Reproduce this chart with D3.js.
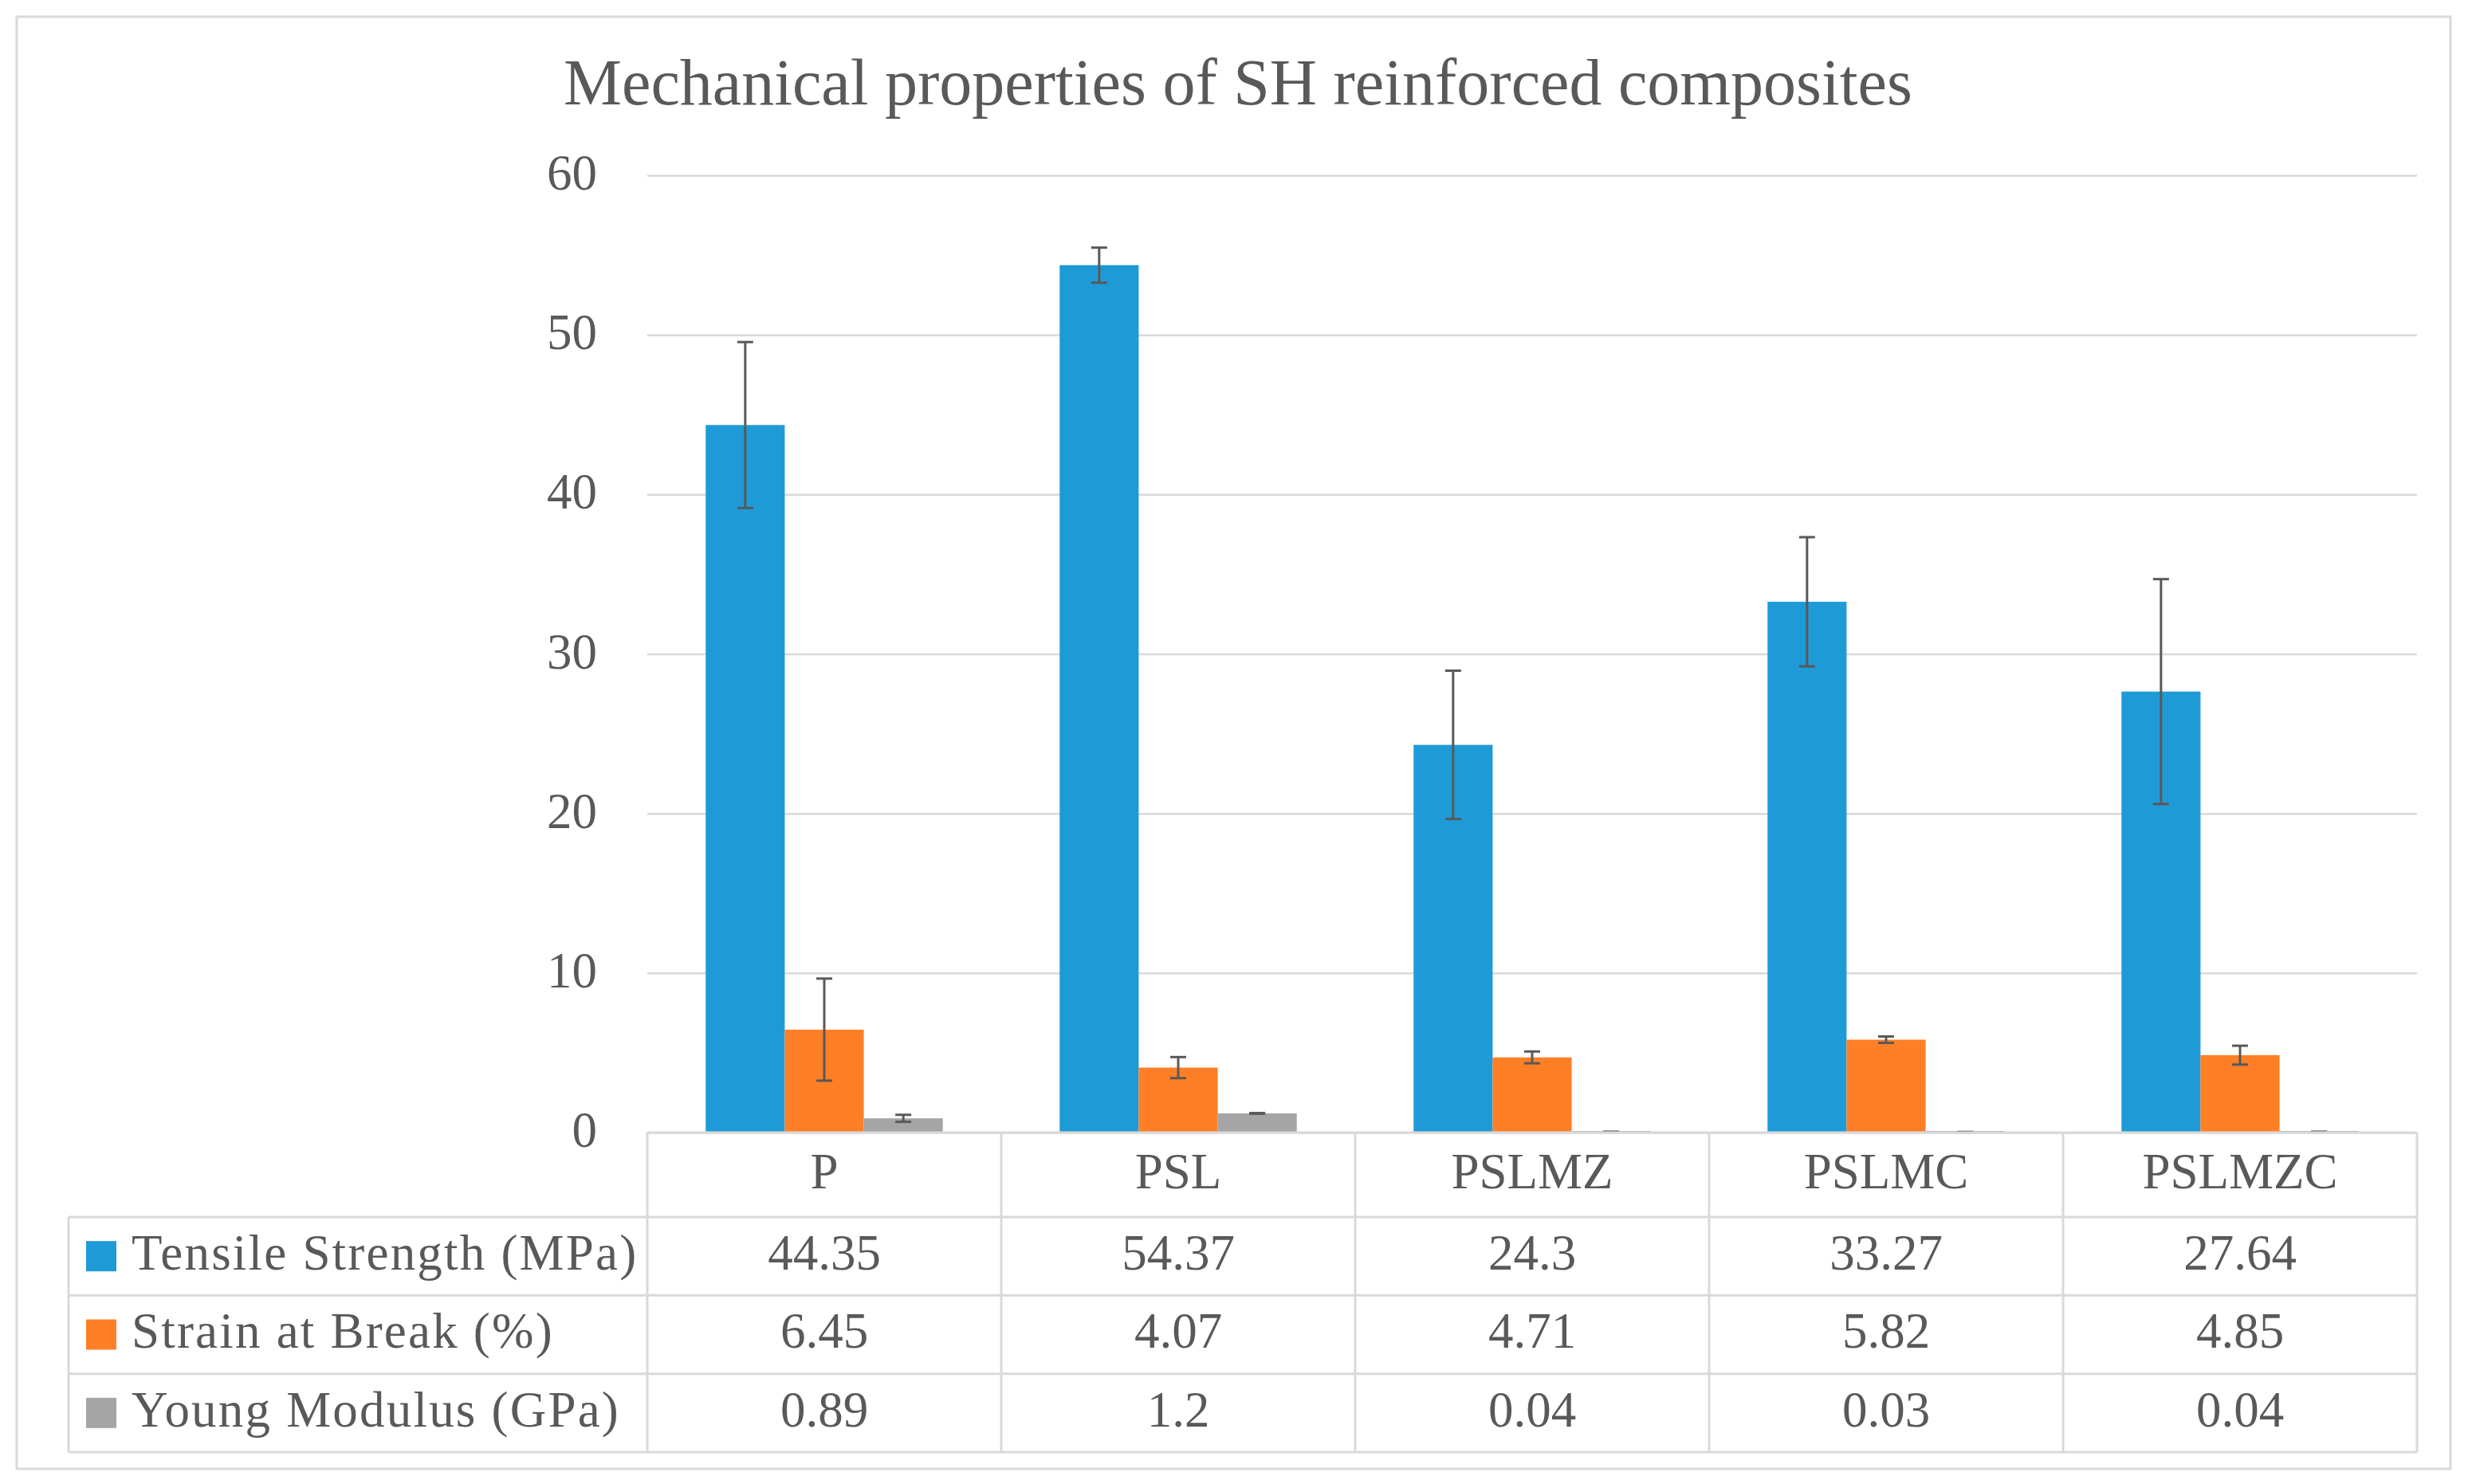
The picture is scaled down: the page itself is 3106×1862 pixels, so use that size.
<!DOCTYPE html>
<html>
<head>
<meta charset="utf-8">
<script src="https://cdn.jsdelivr.net/npm/d3@7"></script>
<style>
  html, body { margin: 0; padding: 0; background: #ffffff; }
  svg { display: block; }
  text { font-family: "Liberation Serif", "DejaVu Serif", serif; fill: #595959; }
</style>
</head>
<body>
<svg id="chart" width="3106" height="1862"></svg>
<script>
const chartTitle = "Mechanical properties of SH reinforced composites";
const categories = ["P", "PSL", "PSLMZ", "PSLMC", "PSLMZC"];
const seriesNames = ["Tensile Strength (MPa)", "Strain at Break (%)", "Young Modulus (GPa)"];
const seriesColors = ["#1E9BD7", "#FF7F27", "#A5A5A5"];
const tensileStrength = [44.35, 54.37, 24.3, 33.27, 27.64];
const strainAtBreak = [6.45, 4.07, 4.71, 5.82, 4.85];
const youngModulus = [0.89, 1.2, 0.04, 0.03, 0.04];
const tensileErr = [5.2, 1.1, 4.65, 4.05, 7.05];
const strainErr = [3.2, 0.66, 0.37, 0.2, 0.59];
const youngErr = [0.22, 0.02, 0.01, 0.01, 0.01];
const yTicks = [0, 10, 20, 30, 40, 50, 60];

const seriesValues = [tensileStrength, strainAtBreak, youngModulus];
const seriesErrors = [tensileErr, strainErr, youngErr];

const W = 3106, H = 1862;
const plotLeft = 812, plotRight = 3032, plotTop = 220, plotBottom = 1421;
const tableLeft = 86, tableBottom = 1822, rowTop = 1527;
const gridColor = "#d9d9d9";
const textColor = "#595959";

const svg = d3.select("#chart");

// outer border
svg.append("rect")
  .attr("x", 21).attr("y", 21)
  .attr("width", 3074 - 21).attr("height", 1843 - 21)
  .attr("fill", "#ffffff")
  .attr("stroke", gridColor).attr("stroke-width", 3);

// title
svg.append("text")
  .attr("x", W / 2).attr("y", 131)
  .attr("text-anchor", "middle")
  .style("font-size", "82px")
  .text(chartTitle);

const y = d3.scaleLinear().domain([0, 60]).range([plotBottom, plotTop]);
const x0 = d3.scaleBand().domain(categories).range([plotLeft, plotRight]).padding(0);
const step = x0.bandwidth();
const x1 = d3.scaleBand().domain(seriesNames).range([step * 0.165, step * 0.835]).padding(0);

// y axis with gridlines
const yAxis = d3.axisLeft(y)
  .tickValues(yTicks)
  .tickSize(-(plotRight - plotLeft))
  .tickPadding(63)
  .tickFormat(d3.format("d"));

const gAxis = svg.append("g")
  .attr("transform", `translate(${plotLeft},0)`)
  .call(yAxis);
gAxis.select(".domain").remove();
gAxis.selectAll(".tick line")
  .attr("stroke", gridColor).attr("stroke-width", 2.5);
gAxis.selectAll(".tick text")
  .attr("fill", textColor)
  .attr("dy", "0.28em")
  .style("font-size", "63px")
  .style("font-family", "'Liberation Serif', serif");

// bars
const barData = [];
categories.forEach((c, i) => {
  seriesNames.forEach((s, j) => {
    barData.push({ cat: c, series: s, idx: j, value: seriesValues[j][i], err: seriesErrors[j][i] });
  });
});

svg.append("g").selectAll("rect")
  .data(barData)
  .join("rect")
  .attr("x", d => x0(d.cat) + x1(d.series))
  .attr("y", d => Math.min(y(d.value), y(0) - 2))
  .attr("width", x1.bandwidth())
  .attr("height", d => Math.max(y(0) - y(d.value), 2))
  .attr("fill", d => seriesColors[d.idx]);

// error bars
const eb = svg.append("g").attr("stroke", textColor).attr("stroke-width", 3);
barData.forEach(d => {
  const cx = x0(d.cat) + x1(d.series) + x1.bandwidth() / 2;
  const yt = y(d.value + d.err), yb = y(d.value - d.err);
  eb.append("line").attr("x1", cx).attr("x2", cx).attr("y1", yt).attr("y2", yb);
  eb.append("line").attr("x1", cx - 10).attr("x2", cx + 10).attr("y1", yt).attr("y2", yt);
  eb.append("line").attr("x1", cx - 10).attr("x2", cx + 10).attr("y1", yb).attr("y2", yb);
});

// data table
const rows = d3.scaleBand().domain(seriesNames).range([rowTop, tableBottom]).padding(0);
const tg = svg.append("g").attr("stroke", gridColor).attr("stroke-width", 3);
tg.append("line").attr("x1", plotLeft).attr("x2", plotRight).attr("y1", plotBottom).attr("y2", plotBottom);
[rowTop, ...seriesNames.map(s => rows(s) + rows.bandwidth())].forEach(yy => {
  tg.append("line").attr("x1", tableLeft).attr("x2", plotRight).attr("y1", yy).attr("y2", yy);
});
tg.append("line").attr("x1", tableLeft).attr("x2", tableLeft).attr("y1", rowTop).attr("y2", tableBottom);
[...categories.map(c => x0(c)), plotRight].forEach(xx => {
  tg.append("line").attr("x1", xx).attr("x2", xx).attr("y1", plotBottom).attr("y2", tableBottom);
});

// category labels
svg.append("g").selectAll("text")
  .data(categories)
  .join("text")
  .attr("x", d => x0(d) + step / 2)
  .attr("y", 1491)
  .attr("text-anchor", "middle")
  .style("font-size", "63px")
  .text(d => d);

// legend keys + names + values
seriesNames.forEach((s, j) => {
  const rt = rows(s);
  svg.append("rect")
    .attr("x", 108).attr("y", rt + rows.bandwidth() / 2 - 19)
    .attr("width", 38).attr("height", 38)
    .attr("fill", seriesColors[j]);
  svg.append("text")
    .attr("x", 165).attr("y", rt + 66)
    .style("font-size", "63px")
    .style("letter-spacing", "2.2px")
    .text(s);
  categories.forEach((c, i) => {
    svg.append("text")
      .attr("x", x0(c) + step / 2).attr("y", rt + 66)
      .attr("text-anchor", "middle")
      .style("font-size", "63px")
      .text(String(seriesValues[j][i]));
  });
});
</script>
</body>
</html>
